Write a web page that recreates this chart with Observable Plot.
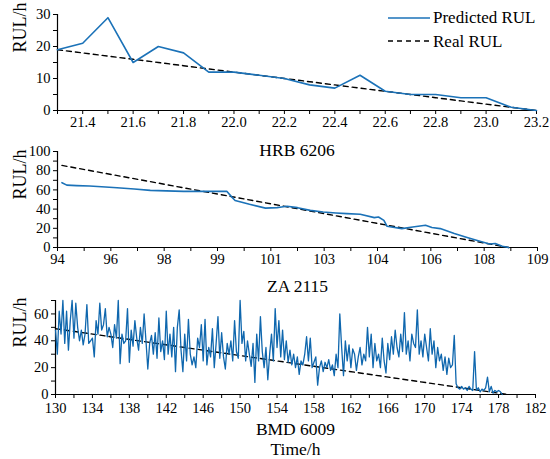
<!DOCTYPE html>
<html><head><meta charset="utf-8">
<script src="https://cdn.jsdelivr.net/npm/d3@7"></script>
<script src="https://cdn.jsdelivr.net/npm/@observablehq/plot@0.6"></script>
<style>
body{margin:0;background:#fff;}
#wrap{position:relative;width:550px;height:459px;font-family:"Liberation Serif",serif;color:#000;}
.panel{position:absolute;left:0;}
.panel svg{overflow:visible;background:transparent !important;}
.panel svg text{font-family:"Liberation Serif",serif !important;}
#legend{position:absolute;left:388px;top:6px;font-size:17px;line-height:23.5px;}
#legend .row{display:flex;align-items:center;height:23.5px;}
#legend svg{width:42px;height:10px;margin-right:3px;}
</style></head>
<body><div id="wrap">
<div class="panel" id="p1" style="top:0px"></div>
<div class="panel" id="p2" style="top:140px"></div>
<div class="panel" id="p3" style="top:290px"></div>
<div id="legend">
 <div class="row"><svg><line x1="0" y1="5" x2="42" y2="5" stroke="#1b72b8" stroke-width="1.6"/></svg><span>Predicted RUL</span></div>
 <div class="row"><svg><line x1="0" y1="5" x2="42" y2="5" stroke="#000" stroke-width="1.4" stroke-dasharray="5,4"/></svg><span>Real RUL</span></div>
</div>
</div>
<script>
// ---------- data ----------
const hrbTime = [21.3,21.4,21.5,21.6,21.7,21.8,21.9,22.0,22.1,22.2,22.3,22.4,22.5,22.6,22.7,22.8,22.9,23.0,23.1,23.2];
const hrbPred = [19,21,29,15,20,18,12,12,11,10,8,7,11,6,5,5,4,4,1,0];
const hrbReal = [19,18,17,16,15,14,13,12,11,10,9,8,7,6,5,4,3,2,1,0];
const hrbXLabels = ["","21.4","","21.6","","21.8","","22.0","","22.2","","22.4","","22.6","","22.8","","23.0","","23.2"];

const zaTime = [94.14,94.29,94.6,95.0,95.5,95.86,96.4,96.9,97.4,97.94,98.6,99.29,99.45,99.55,100.0,100.5,100.86,101.0,101.17,101.5,101.9,102.3,102.7,103.04,103.46,103.9,104.03,104.2,104.3,104.76,105.1,105.5,105.7,105.96,106.4,106.8,107.2,107.5,107.68,107.9,108.1];
const zaPred = [67.5,65,64.5,64,63,62.3,61,59.5,59,58.5,58.5,58.5,52.5,49,45,41,41.5,42.2,43,41.5,38.7,37,36,35.3,34.6,31.1,31.8,28.3,22.1,19.7,21.4,23.2,20.8,19.7,14.5,10.4,6.5,3.7,4.1,1.3,0];
const zaRealTime = [94.14,108.1];
const zaReal = [85.5,0];
const zaXLabels = ["94","96","98","99","101","103","104","106","108","109"];

const bmdStart = 130, bmdStep = 0.2;
const bmdPred = [
48,30,62,45,70, 38,62,33,55,70, 42,68,50,40,48, 37,45,67,38,40, 42,28,55,45,68,
48,52,64,43,50, 45,35,52,42,70, 23,45,38,40,64, 24,48,36,55,42, 33,50,38,60,40,
19,38,44,30,46, 27,57,32,40,26, 62,30,45,28,50, 17,50,63,33,17, 45,25,56,30,22,
28,20,42,35,52, 25,56,22,35,28, 49,20,38,58,27, 46,28,19,38,30, 40,25,55,32,27,
70,38,47,25,40, 30,21,38,9,45, 25,58,32,20,35, 11,30,45,25,64, 35,55,28,48,26,
40,24,33,22,30, 20,28,15,25,22, 30,43,25,42,20, 24,28,7,20,25, 17,24,20,26,18,
22,14,30,20,60, 35,14,40,25,37, 20,34,30,18,28, 35,22,30,25,50, 28,45,20,38,25,
30,20,42,25,16, 38,26,43,30,48, 35,28,45,32,61, 30,40,25,45,38, 35,63,30,40,28,
45,35,25,49,30, 40,20,35,25,30, 18,28,15,27,20, 22,44,8,5,4, 6,4,5,3,6,
4,3,32,3,5, 2,4,3,5,13, 2,6,1,3,2, 3,2,0];
const bmdRealTime = [130,179];
const bmdReal = [49,0];
const bmdXLabels = ["130","134","138","142","146","150","154","158","162","166","170","174","178","182"];

// ---------- helpers ----------
const BLUE = "#1b72b8";
const FONT = "Liberation Serif, serif";
function labelLookup(ticks, labels){
  return d => { let bi=0, bd=Infinity; ticks.forEach((t,i)=>{const dd=Math.abs(t-d); if(dd<bd){bd=dd;bi=i;}}); return labels[bi]; };
}
function panel({el, width=550, height, mt, mb, ml, mr, xDomain, yDomain, xTicks, xFmt, yTicks, yFmt, xMin, pred, real, predW, predColor=BLUE, caption, captionDy, xPad=2, ylabDy=0, extra=[]}){
  const p = Plot.plot({
    width, height, marginTop: mt, marginBottom: mb, marginLeft: ml, marginRight: mr,
    style: {fontFamily: FONT, fontSize: "14.5px", background: "transparent", overflow: "visible"},
    x: {domain: xDomain}, y: {domain: yDomain},
    marks: [
      Plot.axisX({ticks: xTicks, tickFormat: xFmt, tickSize: 4, tickPadding: xPad, label: null, fontSize: 14.5, fontFamily: FONT}),
      Plot.axisY({ticks: yTicks, tickFormat: yFmt, tickSize: 4, tickPadding: 3, label: null, fontSize: 14.5, fontFamily: FONT}),
      Plot.ruleY([yDomain[0]], {strokeWidth: 1.2}),
      Plot.ruleX([xMin], {strokeWidth: 1.2}),
      Plot.line(real, {x: "t", y: "v", stroke: "#000", strokeWidth: 1.4, strokeDasharray: "5,4"}),
      Plot.line(pred, {x: "t", y: "v", stroke: predColor, strokeWidth: predW}),
      Plot.text([caption], {frameAnchor: "bottom", dy: captionDy, fontSize: 17.5, lineAnchor: "bottom", fontFamily: FONT}),
      Plot.text(["RUL/h"], {frameAnchor: "left", dx: -(ml-20), dy: ylabDy, rotate: -90, fontSize: 18, fontFamily: FONT}),
      ...extra
    ]
  });
  document.getElementById(el).append(p);
}

// ---------- panel 1 ----------
const hrbPredD = hrbTime.map((t,i)=>({t, v: hrbPred[i]}));
const hrbRealD = hrbTime.map((t,i)=>({t, v: hrbReal[i]}));
panel({el:"p1", height:160, mt:14, mb:50, ml:57, mr:14,
  xDomain:[21.3,23.2], yDomain:[0,30],
  xTicks: hrbTime, xFmt: labelLookup(hrbTime, hrbXLabels),
  yTicks: [0,5,10,15,20,25,30], yFmt: d => d%10===0 ? String(d) : "",
  xMin: 21.3, pred: hrbPredD, real: hrbRealD, predW: 1.6,
  caption: "HRB 6206", captionDy: 45, ylabDy: -10});

// ---------- panel 2 ----------
const zaTicks = d3.range(19).map(k => 94 + k*15/18);
const zaLabelsAll = zaTicks.map((t,k)=> k%2===0 ? zaXLabels[k/2] : "");
panel({el:"p2", height:152, mt:11, mb:45, ml:57, mr:13,
  xDomain:[94,109], yDomain:[0,100],
  xTicks: zaTicks, xFmt: labelLookup(zaTicks, zaLabelsAll),
  yTicks: d3.range(0,101,10), yFmt: d => d%20===0 ? String(d) : "",
  xMin: 94, pred: zaTime.map((t,i)=>({t, v: zaPred[i]})), real: zaRealTime.map((t,i)=>({t, v: zaReal[i]})), predW: 1.6,
  caption: "ZA 2115", captionDy: 44});

// ---------- panel 3 ----------
const bmdD = bmdPred.map((v,i)=>({t: bmdStart + i*bmdStep, v}));
const bmdTicks = d3.range(130,183,2);
const bmdLabelsAll = bmdTicks.map(t => (t-130)%4===0 ? bmdXLabels[(t-130)/4] : "");
panel({el:"p3", height:169, mt:10, mb:65, ml:55, mr:15,
  xDomain:[130,182], yDomain:[0,70],
  xTicks: bmdTicks, xFmt: labelLookup(bmdTicks, bmdLabelsAll),
  yTicks: d3.range(0,71,10), yFmt: d => d%20===0 ? String(d) : "",
  xMin: 130, pred: bmdD, real: bmdRealTime.map((t,i)=>({t, v: bmdReal[i]})), predW: 1.3, predColor: "#0f67ae",
  caption: "BMD 6009", captionDy: 40, xPad: 4,
  extra: [Plot.text(["Time/h"], {frameAnchor: "bottom", dy: 60, fontSize: 17.5, lineAnchor: "bottom", fontFamily: FONT})]});
</script>
</body></html>
